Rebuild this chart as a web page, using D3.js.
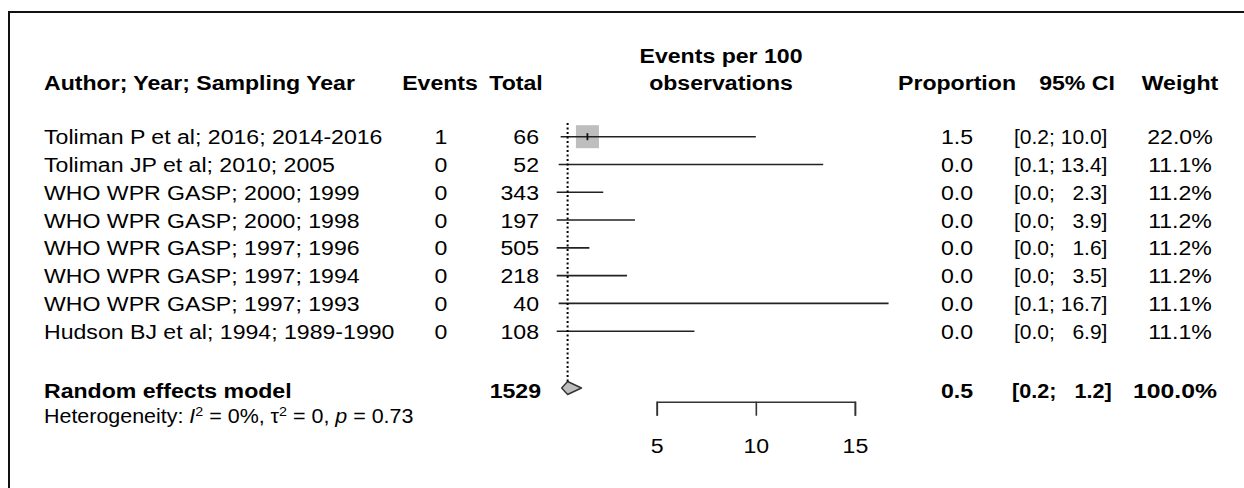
<!DOCTYPE html>
<html>
<head>
<meta charset="utf-8">
<script src="https://cdn.jsdelivr.net/npm/d3@7"></script>
<style>
  html, body { margin: 0; padding: 0; background: #fff; }
  svg { display: block; }
  text { font-family: "Liberation Sans", Arial, sans-serif; fill: #000; }
</style>
</head>
<body>
<svg id="chart" width="1244" height="488"></svg>
<script>
// Study-level data
const studies = [
  "Toliman P et al; 2016; 2014-2016",
  "Toliman JP et al; 2010; 2005",
  "WHO WPR GASP; 2000; 1999",
  "WHO WPR GASP; 2000; 1998",
  "WHO WPR GASP; 1997; 1996",
  "WHO WPR GASP; 1997; 1994",
  "WHO WPR GASP; 1997; 1993",
  "Hudson BJ et al; 1994; 1989-1990"
];
const events     = [1, 0, 0, 0, 0, 0, 0, 0];
const totals     = [66, 52, 343, 197, 505, 218, 40, 108];
const proportion = [1.5, 0.0, 0.0, 0.0, 0.0, 0.0, 0.0, 0.0];
const ciLower    = [0.2, 0.1, 0.0, 0.0, 0.0, 0.0, 0.1, 0.0];
const ciUpper    = [10.0, 13.4, 2.3, 3.9, 1.6, 3.5, 16.7, 6.9];
const weights    = [22.0, 11.1, 11.2, 11.2, 11.2, 11.2, 11.1, 11.1];

// Pooled (random effects) result
const pooledLabel  = "Random effects model";
const pooledTotal  = 1529;
const pooledEst    = 0.5;
const pooledLower  = 0.2;
const pooledUpper  = 1.2;
const pooledWeight = 100.0;

// Heterogeneity statistics
const hetI2   = "0%";
const hetTau2 = "0";
const hetP    = "0.73";

// Axis ticks and column headings
const axisTicks = [5, 10, 15];
const headers = ["Author; Year; Sampling Year", "Events", "Total", "Proportion", "95% CI", "Weight"];
const plotTitle = ["Events per 100", "observations"];

// ---- layout ----
const FS = 21;        // base font size
const SX = 1.1;       // horizontal glyph stretch
const svg = d3.select("#chart");

// frame
svg.append("path")
  .attr("d", "M9,488 V12 H1244")
  .attr("fill", "none").attr("stroke", "#111").attr("stroke-width", 2);

const x = d3.scaleLinear().domain([0, 15]).range([557.7, 854.9]);
const y = d3.scaleLinear().domain([0, studies.length - 1]).range([136.7, 331.2]);
const ySum = 388;
const yHet = 416;
const yHead = 82;

const col = { label: 44, events: 441, total: 539, prop: 957, ci: 1012, weight: 1180 };

function txt(g, s, xx, yy, anchor, bold, size, sx) {
  return g.append("text")
    .attr("transform", `translate(${xx},${yy}) scale(${sx || SX},1)`)
    .attr("dy", "0.36em")
    .attr("text-anchor", anchor || "start")
    .attr("font-weight", bold ? "bold" : "normal")
    .attr("font-size", size || FS)
    .style("white-space", "pre")
    .text(s);
}

const gText = svg.append("g");

// headers
txt(gText, headers[0], col.label, yHead, "start", true);
txt(gText, headers[1], 440, yHead, "middle", true);
txt(gText, headers[2], 516, yHead, "middle", true);
txt(gText, headers[3], col.prop, yHead, "middle", true);
txt(gText, headers[4], 1077, yHead, "middle", true);
txt(gText, headers[5], col.weight, yHead, "middle", true);
txt(gText, plotTitle[0], 721, 55, "middle", true);
txt(gText, plotTitle[1], 721, yHead, "middle", true);

// confidence interval text, upper bound padded with figure spaces
const f1 = d3.format(".1f");
const upperWidth = d3.max(ciUpper.concat([pooledUpper]), v => f1(v).length);
function ciText(lo, hi) {
  const h = f1(hi);
  return "[" + f1(lo) + "; " + "\u2007".repeat(upperWidth - h.length) + h + "]";
}

// study rows
studies.forEach((s, i) => {
  const yy = y(i);
  txt(gText, s, col.label, yy, "start");
  txt(gText, events[i], col.events, yy, "middle");
  txt(gText, totals[i], col.total, yy, "end");
  txt(gText, f1(proportion[i]), col.prop, yy, "middle");
  txt(gText, ciText(ciLower[i], ciUpper[i]), col.ci + 2, yy, "start", false, FS, 1.0);
  txt(gText, f1(weights[i]) + "%", col.weight, yy, "middle");
});

// pooled row
const yS = ySum + 2;
txt(gText, pooledLabel, col.label, yS, "start", true);
txt(gText, pooledTotal, col.total + 2, yS, "end", true);
txt(gText, f1(pooledEst), col.prop, yS, "middle", true);
txt(gText, ciText(pooledLower, pooledUpper), col.ci, yS, "start", true, FS, 1.03);
txt(gText, f1(pooledWeight) + "%", col.weight - 5, yS, "middle", true, FS, 1.18);

// heterogeneity line
const het = gText.append("text")
  .attr("transform", `translate(${col.label},${yHet}) scale(${SX},1)`)
  .attr("dy", "0.36em")
  .attr("font-size", 19.5);
het.append("tspan").text("Heterogeneity: ");
het.append("tspan").attr("font-style", "italic").text("I");
het.append("tspan").attr("font-size", 13).attr("dy", "-0.55em").text("2");
het.append("tspan").attr("dy", "0.36em").attr("font-size", 19.5).text(" = " + hetI2 + ", \u03C4");
het.append("tspan").attr("font-size", 13).attr("dy", "-0.55em").text("2");
het.append("tspan").attr("dy", "0.36em").attr("font-size", 19.5).text(" = " + hetTau2 + ", ");
het.append("tspan").attr("font-style", "italic").text("p");
het.append("tspan").text(" = " + hetP);

// ---- forest plot ----
const gPlot = svg.append("g");
const maxW = d3.max(weights);
const sq = d3.scaleSqrt().domain([0, maxW]).range([0, 23]);

studies.forEach((s, i) => {
  const yy = y(i);
  const side = sq(weights[i]);
  const cx = x(proportion[i]);
  const fits = cx - side / 2 >= x.range()[0];   // square drawn only when inside the range
  if (fits) {
    gPlot.append("rect")
      .attr("x", cx - side / 2).attr("y", yy - side / 2)
      .attr("width", side).attr("height", side)
      .attr("fill", "#bebebe");
  }
  gPlot.append("line")
    .attr("x1", x(ciLower[i]) - 1).attr("x2", x(ciUpper[i]))
    .attr("y1", yy).attr("y2", yy)
    .attr("stroke", "#222").attr("stroke-width", 1.6);
  if (fits) {
    gPlot.append("line")
      .attr("x1", cx).attr("x2", cx)
      .attr("y1", yy - 3.5).attr("y2", yy + 3.5)
      .attr("stroke", "#111").attr("stroke-width", 1.8);
  }
});

// pooled diamond
const dh = 6.5;
gPlot.append("path")
  .attr("d", `M${x(pooledLower)},${ySum} L${x(pooledEst)},${ySum - dh} L${x(pooledUpper)},${ySum} L${x(pooledEst)},${ySum + dh} Z`)
  .attr("fill", "#bdbdbd").attr("stroke", "#333").attr("stroke-width", 1.4)
  .attr("stroke-linejoin", "round");

// pooled estimate reference line
gPlot.append("line")
  .attr("x1", x(pooledEst)).attr("x2", x(pooledEst))
  .attr("y1", 123).attr("y2", ySum - 5)
  .attr("stroke", "#000").attr("stroke-width", 2)
  .attr("stroke-dasharray", "2,2.5");

// axis
const xAxisScale = x.copy().domain([axisTicks[0], axisTicks[axisTicks.length - 1]])
  .range([x(axisTicks[0]), x(axisTicks[axisTicks.length - 1])]);
const axis = d3.axisBottom(xAxisScale)
  .tickValues(axisTicks)
  .tickSizeInner(14).tickSizeOuter(14)
  .tickPadding(22)
  .tickFormat(d3.format("d"));
const gAxis = svg.append("g").attr("transform", "translate(0,401.7)").call(axis);
gAxis.select(".domain").attr("stroke", "#333").attr("stroke-width", 1.6);
gAxis.selectAll(".tick line").attr("stroke", "#333").attr("stroke-width", 1.6);
gAxis.selectAll(".tick text")
  .attr("font-size", FS)
  .attr("transform", `scale(${SX},1)`)
  .attr("font-family", "Liberation Sans, Arial, sans-serif")
  .attr("fill", "#000");
</script>
</body>
</html>
